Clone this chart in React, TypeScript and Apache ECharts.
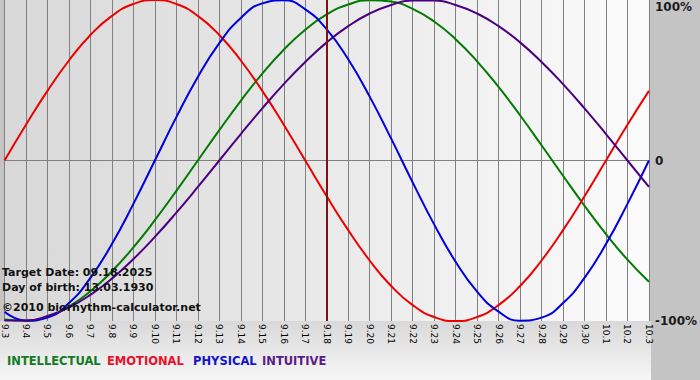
import React, { useEffect, useRef } from 'react';
import * as echarts from 'echarts';

const days = ['9.3', '9.4', '9.5', '9.6', '9.7', '9.8', '9.9', '9.10', '9.11', '9.12', '9.13', '9.14', '9.15', '9.16', '9.17', '9.18', '9.19', '9.20', '9.21', '9.22', '9.23', '9.24', '9.25', '9.26', '9.27', '9.28', '9.29', '9.30', '10.1', '10.2', '10.3'];

const intellectual = [-99.0, -99.9, -97.2, -91.0, -81.5, -69.0, -54.1, -37.2, -18.9, 0, 18.9, 37.2, 54.1, 69.0, 81.5, 91.0, 97.2, 99.9, 99.0, 94.5, 86.6, 75.6, 61.8, 45.8, 28.2, 9.5, -9.5, -28.2, -45.8, -61.8, -75.6];
const emotional = [0, 22.3, 43.4, 62.3, 78.2, 90.1, 97.5, 100, 97.5, 90.1, 78.2, 62.3, 43.4, 22.3, 0, -22.3, -43.4, -62.3, -78.2, -90.1, -97.5, -100, -97.5, -90.1, -78.2, -62.3, -43.4, -22.3, 0, 22.3, 43.4];
const physical = [-94.2, -99.8, -97.9, -88.8, -73.1, -52.0, -27.0, 0, 27.0, 52.0, 73.1, 88.8, 97.9, 99.8, 94.2, 81.7, 63.1, 39.8, 13.6, -13.6, -39.8, -63.1, -81.7, -94.2, -99.8, -97.9, -88.8, -73.1, -52.0, -27.0, 0];
const intuitive = [-99.7, -99.7, -96.9, -91.6, -83.7, -73.6, -61.4, -47.6, -32.5, -16.5, 0, 16.5, 32.5, 47.6, 61.4, 73.6, 83.7, 91.6, 96.9, 99.7, 99.7, 96.9, 91.6, 83.7, 73.6, 61.4, 47.6, 32.5, 16.5, 0, -16.5];

const seriesNames = ['INTELLECTUAL', 'EMOTIONAL', 'PHYSICAL', 'INTUITIVE'];
const lineColors = ['#007a00', '#ee0000', '#0000dd', '#4b0082'];
const legendColors = ['#137a22', '#ea1028', '#1414cc', '#5a1a88'];
const legendX = [7, 107, 193, 262];

const yMin = -100;
const yMax = 100;
const yStep = 100;
const targetDay = '9.18';
const infoLines = ['Target Date: 09.18.2025', 'Day of birth: 13.03.1930', '\u00a92010 biorhythm-calculator.net'];
const infoY = [272, 287, 307];

const FONT = 'DejaVu Sans';

export default function App() {
  const ref = useRef<HTMLDivElement>(null);
  useEffect(() => {
    if (!ref.current) return;
    const chart = echarts.init(ref.current, null, { renderer: 'svg' });
    const data = [intellectual, emotional, physical, intuitive];
    const series: any[] = seriesNames.map((name, i) => ({
      name,
      type: 'line',
      data: data[i],
      smooth: 0.5,
      symbol: 'none',
      lineStyle: { color: lineColors[i], width: 2 },
      z: 3 + i,
    }));
    series[0].markLine = {
      silent: true,
      symbol: 'none',
      label: { show: false },
      lineStyle: { color: '#7a1414', width: 2, type: 'solid' },
      data: [{ xAxis: targetDay }],
      z: 10,
    };

    const graphics: any[] = [
      {
        type: 'rect',
        z: -10,
        shape: { x: 0, y: 321, width: 651, height: 59 },
        style: {
          fill: new echarts.graphic.LinearGradient(0, 0, 0, 1, [
            { offset: 0, color: '#d9d9d9' },
            { offset: 1, color: '#f6f6f6' },
          ]),
        },
        silent: true,
      },
    ];
    infoLines.forEach((t, i) => {
      graphics.push({
        type: 'text',
        z: 100,
        x: 2,
        y: infoY[i],
        style: {
          text: t,
          fill: '#111',
          font: `bold 11px "${FONT}"`,
          textVerticalAlign: 'middle',
        },
      });
    });
    seriesNames.forEach((t, i) => {
      graphics.push({
        type: 'text',
        z: 100,
        x: legendX[i],
        y: 361,
        style: {
          text: t,
          fill: legendColors[i],
          font: `bold 11.5px "${FONT}"`,
          textVerticalAlign: 'middle',
        },
      });
    });

    chart.setOption({
      animation: false,
      textStyle: { fontFamily: FONT },
      grid: {
        left: 1,
        right: 49,
        top: 0,
        bottom: 59,
        show: true,
        borderWidth: 0,
        backgroundColor: new echarts.graphic.LinearGradient(0, 0, 1, 0, [
          { offset: 0, color: '#d8d8d8' },
          { offset: 1, color: '#fbfbfb' },
        ]),
      },
      xAxis: {
        type: 'category',
        data: days,
        boundaryGap: false,
        axisLine: { show: true, lineStyle: { color: '#808080', width: 1 } },
        axisTick: { show: true, length: 4, interval: 0, lineStyle: { color: '#808080' } },
        splitLine: { show: true, interval: 0, lineStyle: { color: '#808080', width: 1 } },
        axisLabel: {
          interval: 0,
          rotate: -90,
          margin: 3,
          fontSize: 9,
          color: '#000',
          fontFamily: FONT,
        },
      },
      yAxis: {
        type: 'value',
        position: 'right',
        min: yMin,
        max: yMax,
        interval: yStep,
        axisLine: { show: false },
        axisTick: { show: false },
        splitLine: {
          show: true,
          lineStyle: { color: ['transparent', '#808080', 'transparent'], width: 1 },
        },
        axisLabel: {
          margin: 6,
          color: '#1a1a1a',
          fontSize: 12,
          fontWeight: 'bold',
          fontFamily: FONT,
          formatter: (v: number) => {
            if (v === yMax) return '{top|' + v + '%}';
            if (v === yMin) return '{bot|' + v + '%}';
            return String(v);
          },
          rich: {
            top: { padding: [14, 0, 0, 0], fontSize: 12, fontWeight: 'bold', color: '#1a1a1a', fontFamily: FONT },
            bot: { padding: [0, 0, 0, 0], fontSize: 12, fontWeight: 'bold', color: '#1a1a1a', fontFamily: FONT },
          },
        },
      },
      series,
      graphic: graphics,
    });
    return () => chart.dispose();
  }, []);
  return (
    <div
      ref={ref}
      style={{ position: 'absolute', left: 0, top: 0, width: 700, height: 380, background: '#c4c4c4' }}
    />
  );
}
